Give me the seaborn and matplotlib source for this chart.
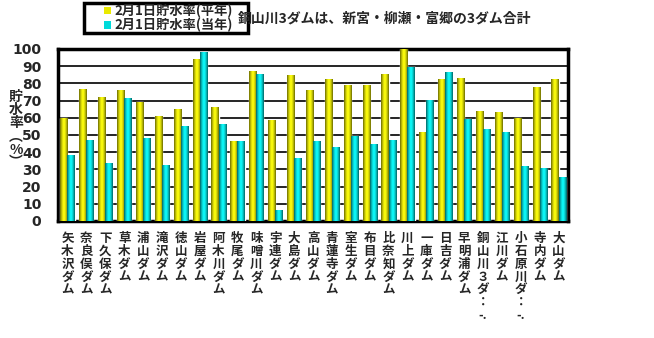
import numpy as np
import pandas as pd
import seaborn as sns
import matplotlib.pyplot as plt
from matplotlib.patches import Patch, Rectangle

sns.set_style('white')
plt.rcParams['font.family'] = ['Noto Sans CJK JP', 'DejaVu Sans']
plt.rcParams['font.weight'] = 'bold'

dams = ['矢木沢ダム', '奈良俣ダム', '下久保ダム', '草木ダム', '浦山ダム', '滝沢ダム', '徳山ダム',
        '岩屋ダム', '阿木川ダム', '牧尾ダム', '味噌川ダム', '宇連ダム', '大島ダム', '高山ダム',
        '青蓮寺ダム', '室生ダム', '布目ダム', '比奈知ダム', '川上ダム', '一庫ダム', '日吉ダム',
        '早明浦ダム', '銅山川3ダム', '江川ダム', '小石原川ダム', '寺内ダム', '大山ダム']
# vertical tick labels as drawn in the reference (long names cut off)
tick_lines = [list(d) for d in dams]
tick_lines[22] = ['銅', '山', '川', '３', 'ダ', '：', '-.']
tick_lines[24] = ['小', '石', '原', '川', 'ダ', '：', '-.']
normal = [60, 77, 72, 76, 69, 61, 65, 94, 66, 46.5, 87, 59, 85, 76,
          82.6, 79, 79, 85.5, 100, 52, 82.6, 83, 64, 63.4, 60, 78, 82.6]
current = [38.5, 47, 34, 71.5, 48.5, 32.5, 55, 98.5, 56.5, 46.5, 85.5, 6.5, 36.5, 46.5,
           43, 49.5, 45, 47, 89.5, 70.5, 86.5, 59.5, 53.5, 51.5, 32, 31, 25.5]
series = ['2月1日貯水率(平年)', '2月1日貯水率(当年)']
colors = ['#EAEA00', '#00DADA']

df = pd.DataFrame({'dam': dams * 2, 'rate': normal + current,
                   'kind': [series[0]] * len(dams) + [series[1]] * len(dams)})

fig = plt.figure(figsize=(6.54, 3.38), dpi=100)
ax = fig.add_axes([58 / 654, 1 - 221 / 338, 510 / 654, 172 / 338])

sns.barplot(data=df, x='dam', y='rate', hue='kind', palette=colors, width=0.75,
            saturation=1, legend=False, ax=ax, zorder=3)

# cylinder-like shading on each bar
shade = np.abs(np.linspace(-1, 1, 32)) ** 1.6
for p, base in zip(ax.patches, [colors[0]] * len(dams) + [colors[1]] * len(dams)):
    x0, y0 = p.get_x(), p.get_y()
    w, h = p.get_width(), p.get_height()
    if h <= 0:
        continue
    rgb = np.array(plt.matplotlib.colors.to_rgb(base))
    dark = rgb * 0.45
    light = np.minimum(rgb * 1.1 + 0.05, 1)
    grad = (1 - shade)[:, None] * light + shade[:, None] * dark
    im = ax.imshow(grad[None, :, :], extent=[x0, x0 + w, y0, y0 + h], aspect='auto',
                   zorder=3.5, interpolation='bilinear')
    im.set_clip_path(p)

ax.set_xlim(-0.5, len(dams) - 0.5)
ax.set_ylim(0, 100)
ax.set_yticks(range(0, 101, 10))
ax.yaxis.grid(True, color='black', linewidth=1.2, zorder=1)
ax.set_axisbelow(True)
for s in ax.spines.values():
    s.set_linewidth(2.5)
    s.set_color('black')

ax.set_xticks(range(len(dams)))
ax.set_xticklabels(['\n'.join(t) for t in tick_lines],
                   fontsize=9, linespacing=0.98, va='top')
ax.tick_params(axis='x', length=3, width=1, pad=8, direction='in')
ax.tick_params(axis='y', length=0, labelsize=10, pad=12)
for t in ax.get_yticklabels():
    t.set_family(['DejaVu Sans'])
    t.set_fontweight('bold')
ax.set_xlabel('')
ax.set_ylabel('')

fig.text(16 / 654, 1 - 130 / 338, '貯\n水\n率\n︵\n%\n︶', ha='center', va='center',
         fontsize=10, linespacing=0.92)

# legend box
fig.patches.append(Rectangle((84 / 654, 1 - 33 / 338), 164 / 654, 30 / 338,
                             transform=fig.transFigure, facecolor='white',
                             edgecolor='black', linewidth=2.5, zorder=5))
handles = [Patch(facecolor=c, edgecolor='none') for c in colors]
leg = fig.legend(handles, series, loc='center left', bbox_to_anchor=(104 / 654, 1 - 18 / 338),
                 fontsize=9.5, frameon=False, handlelength=0.5, handleheight=0.5,
                 handletextpad=0.3, borderpad=0, labelspacing=0.0, borderaxespad=0)
leg.set_zorder(6)

fig.text(238 / 654, 1 - 18 / 338, '銅山川3ダムは、新宮・柳瀬・富郷の3ダム合計',
         fontsize=10, va='center', ha='left', zorder=7)

fig.savefig('out.png', dpi=100)
